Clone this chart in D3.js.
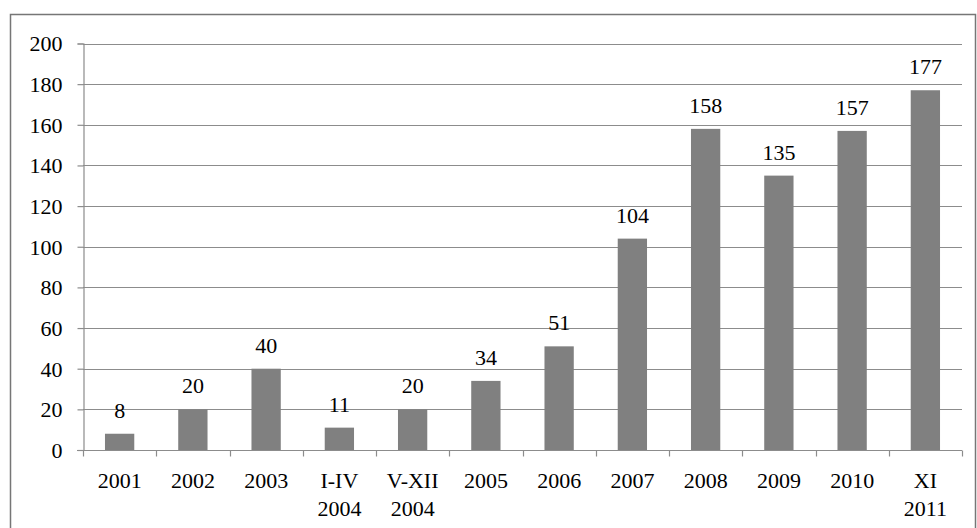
<!DOCTYPE html>
<html>
<head>
<meta charset="utf-8">
<script src="https://cdn.jsdelivr.net/npm/d3@7"></script>
<style>
  body { margin: 0; background: #fff; overflow: hidden; }
  svg text { font-family: "Liberation Serif", "Times New Roman", serif; fill: #000; }
</style>
</head>
<body>
<div id="chart"></div>
<script>
// data
let categories = ["2001", "2002", "2003", "I-IV|2004", "V-XII|2004", "2005", "2006", "2007", "2008", "2009", "2010", "XI|2011"];
let values = [8, 20, 40, 11, 20, 34, 51, 104, 158, 135, 157, 177];
let yTicks = [0, 20, 40, 60, 80, 100, 120, 140, 160, 180, 200];

let w = 977;
let h = 528;
let fontSize = "22px";

let svg = d3.select("#chart").append("svg")
  .attr("width", w)
  .attr("height", h)
  .style("display", "block");

// outer frame (bottom edge falls just outside the picture)
svg.append("rect")
  .attr("x", 10.5)
  .attr("y", 14.5)
  .attr("width", 965)
  .attr("height", 520)
  .attr("fill", "none")
  .attr("stroke", "#767676")
  .attr("stroke-width", 1.5);

let plotLeft = 83, plotRight = 962, plotTop = 43.5, plotBottom = 450;

var x = d3.scaleBand()
  .domain(categories)
  .range([plotLeft, plotRight])
  .paddingInner(0.6)
  .paddingOuter(0.3);

var y = d3.scaleLinear()
  .domain([0, 200])
  .range([plotBottom, plotTop]);

// gridlines
svg.append("g")
  .selectAll("line")
  .data(yTicks.filter(d => d > 0))
  .enter()
  .append("line")
  .attr("x1", plotLeft)
  .attr("x2", plotRight)
  .attr("y1", d => Math.round(y(d)) + 0.5)
  .attr("y2", d => Math.round(y(d)) + 0.5)
  .attr("stroke", "#8c8c8c")
  .attr("stroke-width", 1.2);

// bars
svg.append("g")
  .selectAll("rect")
  .data(values)
  .enter()
  .append("rect")
  .attr("x", (d, i) => x(categories[i]))
  .attr("y", d => y(d))
  .attr("width", x.bandwidth())
  .attr("height", d => plotBottom - y(d))
  .attr("fill", "#808080");

// value labels
svg.append("g")
  .selectAll("text")
  .data(values)
  .enter()
  .append("text")
  .attr("x", (d, i) => x(categories[i]) + x.bandwidth() / 2)
  .attr("y", d => y(d) - 16)
  .attr("text-anchor", "middle")
  .style("font-size", fontSize)
  .text(d => d);

// y axis
var yAxis = svg.append("g")
  .attr("transform", `translate(${plotLeft + 0.5},0)`)
  .call(d3.axisLeft(y).tickValues(yTicks).tickSize(6).tickPadding(15));
yAxis.attr("font-family", null).attr("font-size", null);
yAxis.selectAll("text")
  .style("font-size", fontSize)
  .style("font-family", '"Liberation Serif", "Times New Roman", serif')
  .attr("dy", "0.34em");
yAxis.select(".domain").attr("stroke", "#8c8c8c").attr("stroke-width", 1.2);
yAxis.selectAll(".tick line").attr("stroke", "#8c8c8c").attr("stroke-width", 1.2);

// x axis
let step = x.step();
var xAxis = svg.append("g")
  .attr("transform", `translate(0,${Math.round(plotBottom) + 0.5})`);
xAxis.append("line")
  .attr("x1", plotLeft - 6)
  .attr("x2", plotRight)
  .attr("stroke", "#8c8c8c")
  .attr("stroke-width", 1.2);
xAxis.selectAll("line.tk")
  .data(d3.range(categories.length + 1))
  .enter()
  .append("line")
  .attr("class", "tk")
  .attr("x1", i => Math.round(plotLeft + i * step) + 0.5)
  .attr("x2", i => Math.round(plotLeft + i * step) + 0.5)
  .attr("y1", 0)
  .attr("y2", 6)
  .attr("stroke", "#8c8c8c")
  .attr("stroke-width", 1.2);

xAxis.selectAll("text.lab")
  .data(categories)
  .enter()
  .append("text")
  .attr("class", "lab")
  .attr("text-anchor", "middle")
  .style("font-size", fontSize)
  .attr("transform", d => `translate(${x(d) + x.bandwidth() / 2},0)`)
  .each(function(d) {
    let parts = d.split("|");
    parts.forEach((p, k) => {
      d3.select(this).append("tspan")
        .attr("x", 0)
        .attr("y", 37 + k * 28)
        .text(p);
    });
  });
</script>
</body>
</html>
